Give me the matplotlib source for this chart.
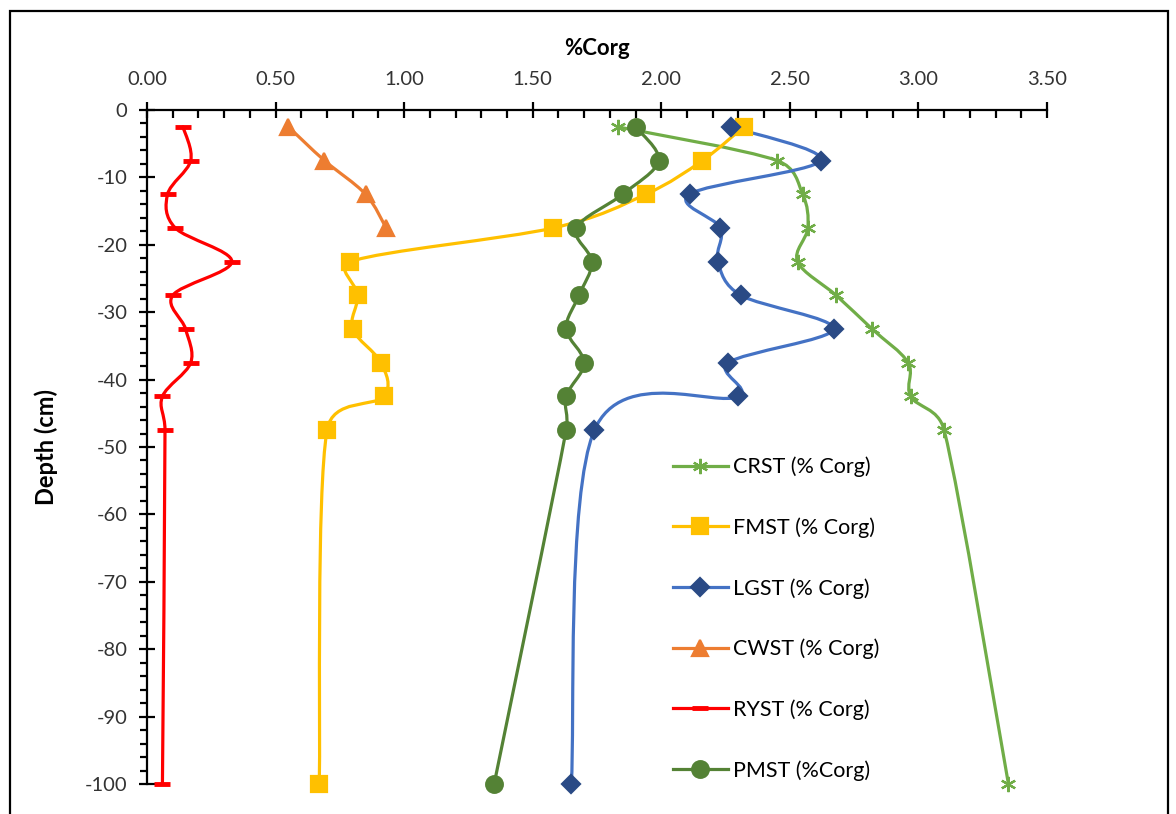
"""
%Corg depth profiles for six soil sites (Excel-style smoothed lines).
Saves out.png
"""

import numpy as np
import matplotlib
matplotlib.use("Agg")
import matplotlib.pyplot as plt
from matplotlib.path import Path
from matplotlib.patches import PathPatch, Rectangle
from matplotlib.lines import Line2D
from matplotlib.ticker import MultipleLocator, FormatStrFormatter

plt.rcParams["font.family"] = ["Lato", "DejaVu Sans"]
plt.rcParams["axes.unicode_minus"] = False

# ---------- data ----------
depth = [-2.5, -7.5, -12.5, -17.5, -22.5, -27.5, -32.5, -37.5, -42.5, -47.5, -100]
depth_cwst = [-2.5, -7.5, -12.5, -17.5]

crst = [1.83, 2.45, 2.55, 2.57, 2.53, 2.68, 2.82, 2.96, 2.97, 3.10, 3.35]
fmst = [2.32, 2.16, 1.94, 1.58, 0.79, 0.82, 0.80, 0.91, 0.92, 0.70, 0.67]
lgst = [2.27, 2.62, 2.11, 2.23, 2.22, 2.31, 2.67, 2.26, 2.30, 1.74, 1.65]
cwst = [0.55, 0.69, 0.85, 0.93]
ryst = [0.14, 0.17, 0.08, 0.11, 0.33, 0.10, 0.15, 0.17, 0.06, 0.07, 0.06]
pmst = [1.90, 1.99, 1.85, 1.67, 1.73, 1.68, 1.63, 1.70, 1.63, 1.63, 1.35]

series = [
    # label, x, y, colour, marker, marker size, marker colour
    ("CRST (% Corg)", crst, depth, "#70AD47", (6, 2, 0), 11, "#70AD47"),
    ("FMST (% Corg)", fmst, depth, "#FFC000", "s", 11, "#FFC000"),
    ("LGST (% Corg)", lgst, depth, "#4472C4", "D", 9.5, "#2A4A85"),
    ("CWST (% Corg)", cwst, depth_cwst, "#ED7D31", "^", 11, "#ED7D31"),
    ("RYST (% Corg)", ryst, depth, "#FF0000", "_", 11, "#FF0000"),
    ("PMST (%Corg)", pmst, depth, "#548235", "o", 12, "#548235"),
]


def smooth_path(ax, x, y):
    """Bezier path through the points like Excel's smoothed line.
    Control points are worked out in screen space; each handle is 1/6 of
    the neighbour chord, but never more than half the segment."""
    p = ax.transData.transform(np.column_stack([x, y]).astype(float))
    n = len(p)
    verts = [p[0]]
    codes = [Path.MOVETO]
    for i in range(n - 1):
        p0 = p[i - 1] if i > 0 else p[i]
        p1, p2 = p[i], p[i + 1]
        p3 = p[i + 2] if i + 2 < n else p[i + 1]
        seg = np.hypot(*(p2 - p1))
        t1, t2 = p2 - p0, p3 - p1
        f1 = min(1 / 6, seg / (2 * max(np.hypot(*t1), 1e-9)))
        f2 = min(1 / 6, seg / (2 * max(np.hypot(*t2), 1e-9)))
        verts += [p1 + t1 * f1, p2 - t2 * f2, p2]
        codes += [Path.CURVE4] * 3
    verts = ax.transData.inverted().transform(np.array(verts))
    return Path(verts, codes)


# ---------- plot ----------
fig = plt.figure(figsize=(11.76, 8.14), dpi=100)
ax = fig.add_axes([147 / 1176, 1 - 784 / 814, 900 / 1176, 674 / 814])
ax.set_xlim(0, 3.5)
ax.set_ylim(-100, 0)

handles = []
for label, xs, ys, col, mk, ms, mcol in series:
    ax.add_patch(PathPatch(smooth_path(ax, xs, ys), fill=False, edgecolor=col,
                           lw=2.3, capstyle="round", joinstyle="round"))
    mew = 3.5 if mk == "_" else 1.6
    ax.plot(xs, ys, ls="none", marker=mk, ms=ms, color=mcol,
            mec=mcol, mew=mew, clip_on=False)
    handles.append(Line2D([], [], color=col, lw=2.3, marker=mk, ms=ms,
                          mfc=mcol, mec=mcol, mew=mew, label=label))

ax.xaxis.tick_top()
ax.xaxis.set_label_position("top")
ax.xaxis.set_major_locator(MultipleLocator(0.5))
ax.xaxis.set_minor_locator(MultipleLocator(0.1))
ax.xaxis.set_major_formatter(FormatStrFormatter("%.2f"))
ax.yaxis.set_major_locator(MultipleLocator(10))
ax.yaxis.set_minor_locator(MultipleLocator(2))

for s in ["bottom", "right"]:
    ax.spines[s].set_visible(False)
for s in ["top", "left"]:
    ax.spines[s].set_linewidth(1.6)

ax.tick_params(axis="x", which="major", direction="inout", length=12, width=1.6,
               labelsize=14.5, labelcolor="#333333", pad=10)
ax.tick_params(axis="x", which="minor", direction="in", length=6, width=1.6)
ax.tick_params(axis="y", which="major", direction="inout", length=12, width=1.6,
               labelsize=14.5, labelcolor="#333333", pad=8)
ax.tick_params(axis="y", which="minor", direction="out", length=5, width=1.6)

ax.set_xlabel("%Corg", fontsize=16, fontweight="bold", labelpad=11)
ax.set_ylabel("Depth (cm)", fontsize=17, fontweight="bold")
ax.yaxis.set_label_coords(-0.099, 0.5)

ax.legend(handles=handles, loc="upper left", frameon=False, fontsize=15.5,
          bbox_to_anchor=(662 / 1176, 1 - 446 / 814),
          bbox_transform=fig.transFigure, labelspacing=1.86,
          handlelength=2.55, handletextpad=0.25, borderpad=0)

# chart border (bottom edge falls outside the picture)
fig.patches.append(Rectangle((10 / 1176, -0.05), 1158 / 1176, 1.05 - 11 / 814,
                             transform=fig.transFigure, fill=False,
                             edgecolor="black", lw=1.6))

fig.savefig("out.png", dpi=100)
print("Saved out.png")
